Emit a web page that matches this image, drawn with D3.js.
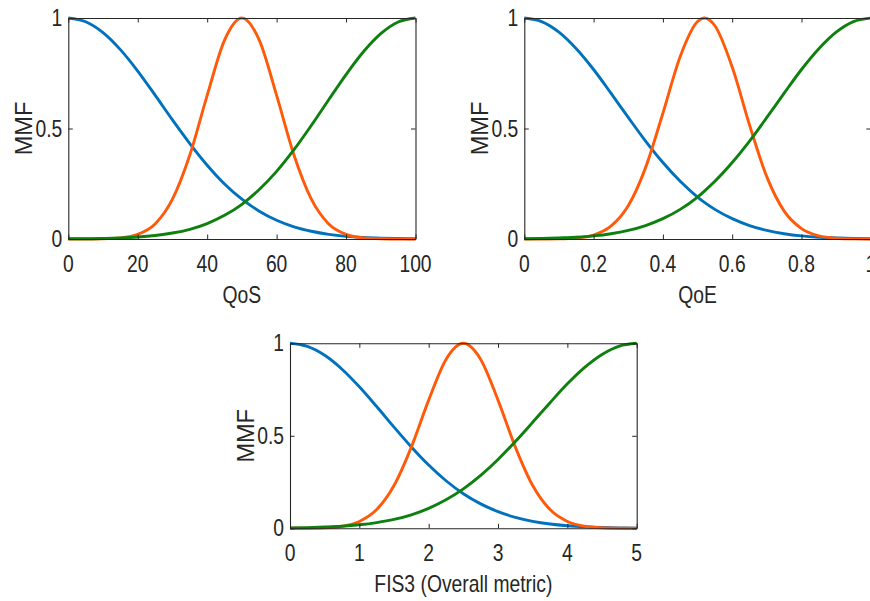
<!DOCTYPE html>
<html>
<head>
<meta charset="utf-8">
<script src="https://cdn.jsdelivr.net/npm/d3@7"></script>
<style>
html,body{margin:0;padding:0;background:#fff;}
svg{display:block;}
text{font-family:"Liberation Sans",Arial,Helvetica,sans-serif;fill:#262626;}
</style>
</head>
<body>
<svg id="chart" width="870" height="601"></svg>
<script>
// ---------- data ----------
const yTicks = [0, 0.5, 1];
const yTickLabels = ["0", "0.5", "1"];

// Plot 1: QoS
const qosX = [0,5,10,15,20,25,30,35,40,45,50,55,60,65,70,75,80,85,90,95,100];
const qosLow  = [1,0.983,0.934,0.857,0.760,0.651,0.539,0.432,0.334,0.249,0.180,0.126,0.085,0.055,0.035,0.021,0.012,0.007,0.004,0.002,0.001];
const qosMid  = [0,0,0.001,0.005,0.021,0.068,0.18,0.38,0.65,0.90,1,0.90,0.65,0.38,0.18,0.068,0.021,0.005,0.001,0,0];
const qosHigh = [0.001,0.001,0.0025,0.005,0.009,0.016,0.027,0.044,0.070,0.107,0.157,0.224,0.306,0.404,0.514,0.630,0.744,0.847,0.929,0.982,1];
const qosTicks = [0,20,40,60,80,100];
const qosTickLabels = ["0","20","40","60","80","100"];

// Plot 2: QoE
const qoeX = [0,0.05,0.1,0.15,0.2,0.25,0.3,0.35,0.4,0.45,0.5,0.52,0.55,0.6,0.65,0.7,0.75,0.8,0.85,0.9,0.95,1];
const qoeLow  = [1,0.984,0.936,0.861,0.767,0.660,0.550,0.443,0.346,0.261,0.190,0.166,0.134,0.092,0.061,0.039,0.024,0.014,0.008,0.005,0.0025,0.0013];
const qoeMid  = [0,0.0002,0.001,0.0047,0.018,0.058,0.150,0.323,0.569,0.826,0.984,1,0.965,0.778,0.516,0.281,0.126,0.047,0.014,0.0035,0.0007,0.0001];
const qoeHigh = [0.0013,0.0025,0.005,0.008,0.014,0.024,0.039,0.061,0.092,0.134,0.190,0.217,0.261,0.346,0.443,0.550,0.660,0.767,0.861,0.936,0.984,1];
const qoeTicks = [0,0.2,0.4,0.6,0.8,1];
const qoeTickLabels = ["0","0.2","0.4","0.6","0.8","1"];

// Plot 3: FIS3
const fisX = [0,0.25,0.5,0.75,1,1.25,1.5,1.75,2,2.25,2.5,2.75,3,3.25,3.5,3.75,4,4.25,4.5,4.75,5];
const fisLow  = [1,0.983,0.935,0.860,0.765,0.658,0.547,0.440,0.342,0.257,0.187,0.132,0.090,0.059,0.0375,0.023,0.0137,0.0079,0.0044,0.0024,0.0012];
const fisMid  = [0.0001,0.0006,0.0029,0.0113,0.037,0.101,0.231,0.439,0.693,0.913,1,0.913,0.693,0.439,0.231,0.101,0.037,0.0113,0.0029,0.0006,0.0001];
const fisHigh = [0.0021,0.0038,0.0067,0.011,0.019,0.031,0.048,0.073,0.108,0.154,0.213,0.286,0.372,0.469,0.573,0.679,0.781,0.870,0.940,0.985,1];
const fisTicks = [0,1,2,3,4,5];
const fisTickLabels = ["0","1","2","3","4","5"];

const seriesColors = ["#0072BD", "#FF5A0A", "#0E800E"];
const yLabel = "MMF";

// ---------- drawing ----------
const svg = d3.select("#chart");
const TEXT_SX = 0.84;
const FONT = 23;

function drawPanel(cfg) {
  const {left, right, top, bottom, xDomain, xs, series, ticks, tickLabels, xLabel} = cfg;
  const x = d3.scaleLinear().domain(xDomain).range([left, right]);
  const y = d3.scaleLinear().domain([0, 1]).range([bottom, top]);
  const g = svg.append("g");

  // curves
  const line = d3.line().x(d => x(d[0])).y(d => y(d[1])).curve(d3.curveMonotoneX);
  series.forEach((vals, i) => {
    g.append("path")
      .datum(xs.map((v, j) => [v, vals[j]]))
      .attr("d", line)
      .attr("fill", "none")
      .attr("stroke", seriesColors[i])
      .attr("stroke-width", 2.9)
      .attr("stroke-linejoin", "round");
  });

  // axes (ticks inward, box)
  const tl = 4.5;
  const axB = d3.axisBottom(x).tickValues(ticks).tickSizeInner(-tl).tickSizeOuter(0).tickFormat("");
  const axT = d3.axisTop(x).tickValues(ticks).tickSizeInner(-tl).tickSizeOuter(0).tickFormat("");
  const axL = d3.axisLeft(y).tickValues(yTicks).tickSizeInner(-tl).tickSizeOuter(0).tickFormat("");
  const axR = d3.axisRight(y).tickValues(yTicks).tickSizeInner(-tl).tickSizeOuter(0).tickFormat("");
  [[axB, `translate(0,${bottom})`], [axT, `translate(0,${top})`],
   [axL, `translate(${left},0)`], [axR, `translate(${right},0)`]].forEach(([ax, tr]) => {
    const a = g.append("g").attr("transform", tr).call(ax);
    a.selectAll("path.domain").attr("stroke", "#262626").attr("stroke-width", 1.1);
    a.selectAll(".tick line").attr("stroke", "#262626").attr("stroke-width", 1);
  });

  // x tick labels
  ticks.forEach((t, i) => {
    g.append("text")
      .attr("transform", `translate(${x(t)},${bottom + 33}) scale(${TEXT_SX},1)`)
      .attr("text-anchor", "middle")
      .attr("font-size", FONT)
      .text(tickLabels[i]);
  });
  // y tick labels
  yTicks.forEach((t, i) => {
    g.append("text")
      .attr("transform", `translate(${left - 6},${y(t)}) scale(${TEXT_SX},1)`)
      .attr("text-anchor", "end")
      .attr("dy", "0.35em")
      .attr("font-size", FONT)
      .text(yTickLabels[i]);
  });
  // x label
  g.append("text")
    .attr("transform", `translate(${(left + right) / 2},${bottom + 64}) scale(${TEXT_SX},1)`)
    .attr("text-anchor", "middle")
    .attr("font-size", FONT)
    .text(xLabel);
  // y label
  g.append("text")
    .attr("transform", `translate(${left - 36.5},${(top + bottom) / 2}) rotate(-90)`)
    .attr("text-anchor", "middle")
    .attr("font-size", 23.5)
    .text(yLabel);
}

drawPanel({left: 68.3, right: 415.5, top: 18, bottom: 239, xDomain: [0, 100], xs: qosX,
  series: [qosLow, qosMid, qosHigh], ticks: qosTicks, tickLabels: qosTickLabels, xLabel: "QoS"});
drawPanel({left: 524.3, right: 870.8, top: 18, bottom: 239, xDomain: [0, 1], xs: qoeX,
  series: [qoeLow, qoeMid, qoeHigh], ticks: qoeTicks, tickLabels: qoeTickLabels, xLabel: "QoE"});
drawPanel({left: 290, right: 636.7, top: 343.3, bottom: 528.3, xDomain: [0, 5], xs: fisX,
  series: [fisLow, fisMid, fisHigh], ticks: fisTicks, tickLabels: fisTickLabels, xLabel: "FIS3 (Overall metric)"});
</script>
</body>
</html>
